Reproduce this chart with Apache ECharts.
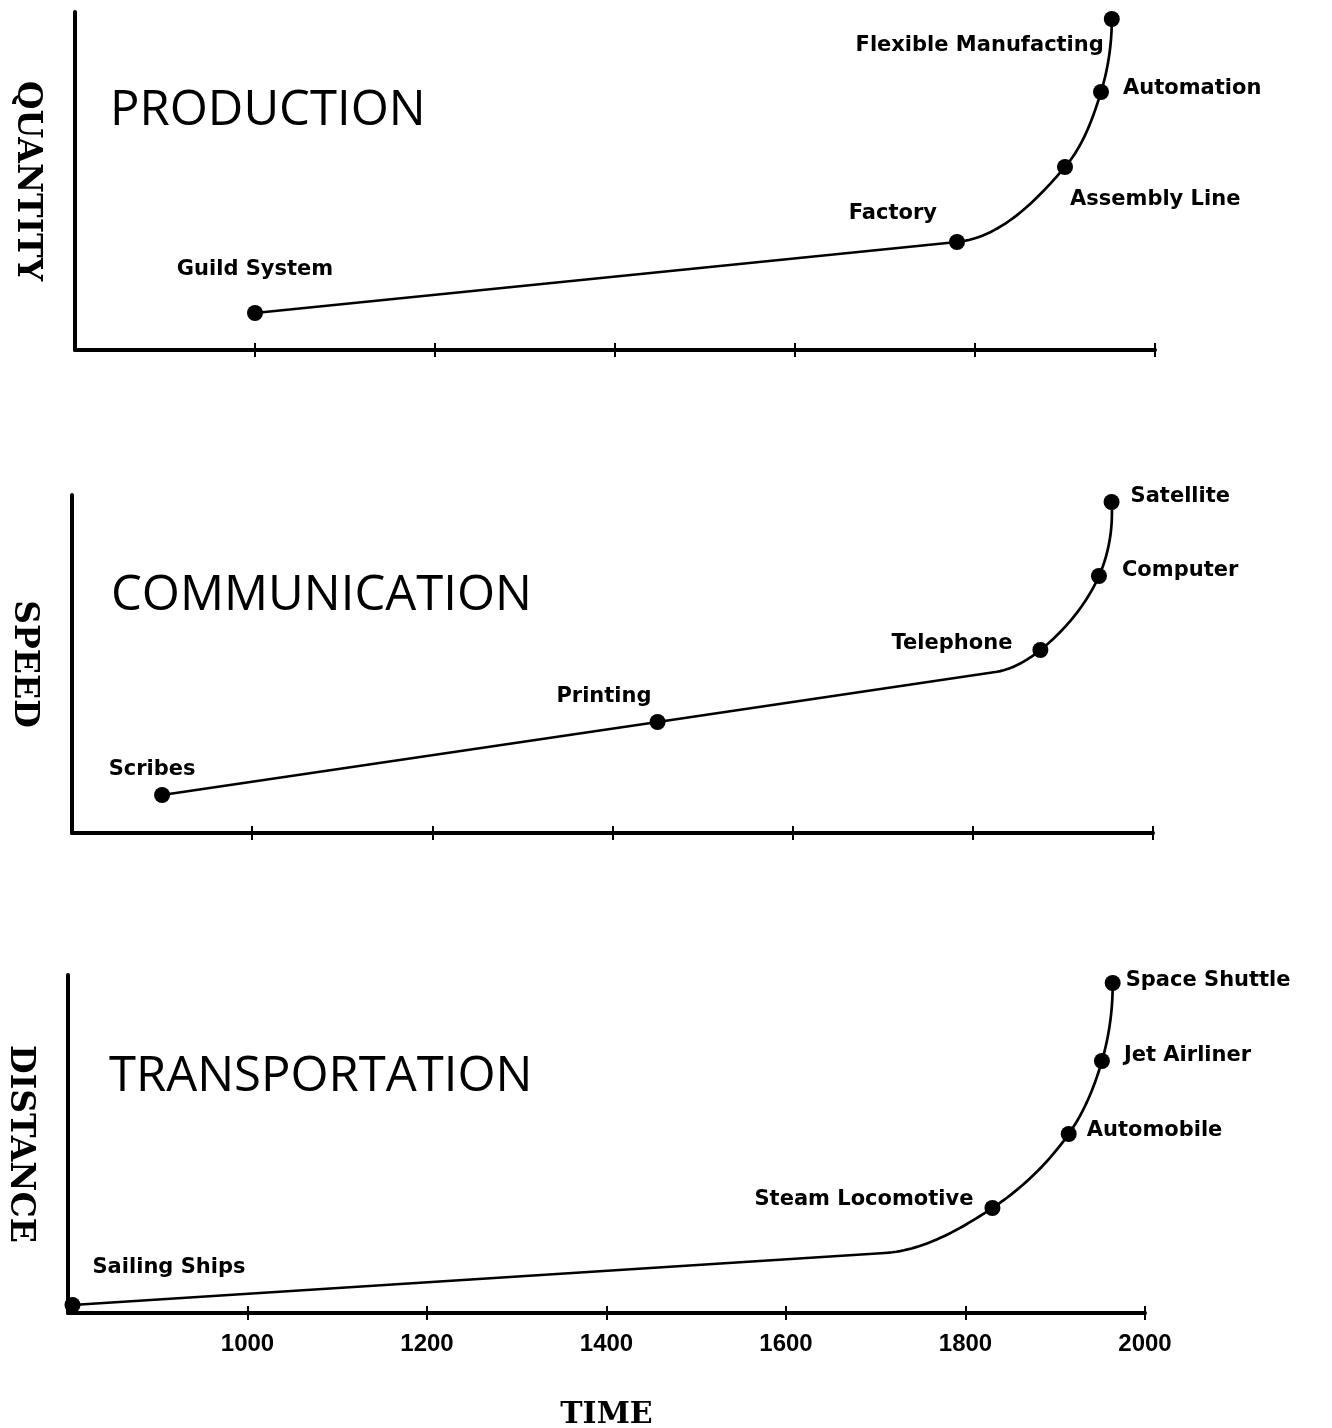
<!DOCTYPE html>
<html>
<head>
<meta charset="utf-8">
<script src="https://cdn.jsdelivr.net/npm/echarts@6/dist/echarts.min.js"></script>
<style>
  html, body { margin: 0; padding: 0; background: #fff; }
  #main { width: 1332px; height: 1428px; }
</style>
</head>
<body>
<div id="main"></div>
<script>
// tick marks along the time axis
const tickYears = [1000, 1200, 1400, 1600, 1800, 2000]
const tickLabels = ['1000', '1200', '1400', '1600', '1800', '2000']

// production
const prodYears = [1000, 1780, 1900, 1940, 1952]
const prodValues = [37, 108, 183, 258, 331]
const prodLabels = ['Guild System', 'Factory', 'Assembly Line', 'Automation', 'Flexible Manufacting']

// communication ('' = bend of the line, no dot)
const commYears = [900, 1450, 1825, 1875, 1940, 1954]
const commValues = [38, 111, 161, 183, 257, 331]
const commLabels = ['Scribes', 'Printing', '', 'Telephone', 'Computer', 'Satellite']

// transportation
const transYears = [805, 1710, 1830, 1915, 1952, 1964]
const transValues = [8, 60, 105, 179, 252, 330]
const transLabels = ['Sailing Ships', '', 'Steam Locomotive', 'Automobile', 'Jet Airliner', 'Space Shuttle']

// label placement next to each dot: [align, dx, dy]
const prodPlace = [['center', 0, -43], ['right', -20, -28], ['left', 5, 33], ['left', 22, -3], ['right', -8, 27]]
const commPlace = [['center', -10, -25], ['right', -6, -25], null, ['right', -28, -6], ['left', 23, -5], ['left', 19, -5]]
const transPlace = [['left', 20, -37], null, ['right', -19, -8], ['left', 18, -3], ['left', 22, -5], ['left', 13, -2]]

const panels = [
    { years: prodYears, values: prodValues, labels: prodLabels, place: prodPlace, curveFrom: 1,
      title: 'PRODUCTION', axisName: 'QUANTITY', grid: { left: 75, top: 12, width: 1080, height: 338 }, titleX: 110, titleY: 111 },
    { years: commYears, values: commValues, labels: commLabels, place: commPlace, curveFrom: 2,
      title: 'COMMUNICATION', axisName: 'SPEED', grid: { left: 72, top: 495, width: 1081, height: 338 }, titleX: 111, titleY: 596 },
    { years: transYears, values: transValues, labels: transLabels, place: transPlace, curveFrom: 1,
      title: 'TRANSPORTATION', axisName: 'DISTANCE', grid: { left: 68, top: 975, width: 1077, height: 338 }, titleX: 109, titleY: 1077 }
]

const black = '#000'

function unit(a, b) {
    const dx = b[0] - a[0], dy = b[1] - a[1]
    const l = Math.hypot(dx, dy) || 1
    return [dx / l, dy / l]
}
function norm(v) {
    const l = Math.hypot(v[0], v[1]) || 1
    return [v[0] / l, v[1] / l]
}

// straight run up to curveFrom, then a smooth bezier through the rest (in pixel space)
function linePoints(px, curveFrom) {
    const out = px.slice(0, curveFrom + 1)
    const n = px.length
    const tan = []
    for (let k = curveFrom; k < n; k++) {
        if (k === curveFrom) tan[k] = k > 0 ? unit(px[k - 1], px[k]) : unit(px[k], px[k + 1])
        else if (k === n - 1) {
            const c = unit(px[k - 1], px[k])
            tan[k] = norm([2 * c[0] - tan[k - 1][0], 2 * c[1] - tan[k - 1][1]])
        } else {
            const a = unit(px[k - 1], px[k]), b = unit(px[k], px[k + 1])
            tan[k] = norm([a[0] + b[0], a[1] + b[1]])
        }
    }
    for (let k = curveFrom; k < n - 1; k++) {
        const p0 = px[k], p3 = px[k + 1]
        const d = Math.hypot(p3[0] - p0[0], p3[1] - p0[1]) / 3
        const p1 = [p0[0] + tan[k][0] * d, p0[1] + tan[k][1] * d]
        const p2 = [p3[0] - tan[k + 1][0] * d, p3[1] - tan[k + 1][1] * d]
        for (let s = 1; s <= 30; s++) {
            const t = s / 30, u = 1 - t
            out.push([
                u * u * u * p0[0] + 3 * u * u * t * p1[0] + 3 * u * t * t * p2[0] + t * t * t * p3[0],
                u * u * u * p0[1] + 3 * u * u * t * p1[1] + 3 * u * t * t * p2[1] + t * t * t * p3[1]
            ])
        }
    }
    return out
}

const grids = [], xAxes = [], yAxes = [], series = [], texts = []

panels.forEach((p, i) => {
    grids.push(Object.assign({ outerBoundsMode: 'none' }, p.grid))
    const last = i === panels.length - 1
    // main axis: line, outward ticks, labels on the bottom panel
    xAxes.push({
        gridIndex: i, type: 'value', min: 800, max: 2000, position: 'bottom',
        axisLine: { lineStyle: { color: black, width: 4 } },
        axisTick: { show: true, customValues: tickYears, length: 7, lineStyle: { color: black, width: 2 } },
        axisLabel: {
            show: last, customValues: tickYears, margin: 19,
            formatter: v => tickLabels[tickYears.indexOf(v)],
            color: black, fontFamily: 'Liberation Sans', fontWeight: 'bold', fontSize: 24
        },
        splitLine: { show: false },
        name: last ? 'TIME' : '', nameLocation: 'middle', nameGap: 87,
        nameTextStyle: { color: black, fontFamily: 'DejaVu Serif', fontWeight: 'bold', fontSize: 30 }
    })
    // overlay axis: only the inward half of the ticks, so they cross the line
    xAxes.push({
        gridIndex: i, type: 'value', min: 800, max: 2000, position: 'bottom',
        axisLine: { show: false },
        axisTick: { show: true, inside: true, customValues: tickYears, length: 7, lineStyle: { color: black, width: 2 } },
        axisLabel: { show: false },
        splitLine: { show: false }
    })
    yAxes.push({
        gridIndex: i, type: 'value', min: 0, max: 338,
        axisLine: { show: true, lineStyle: { color: black, width: 4 } },
        axisTick: { show: false }, axisLabel: { show: false }, splitLine: { show: false },
        name: p.axisName, nameLocation: 'middle', nameRotate: -90, nameGap: 32,
        nameTextStyle: { color: black, fontFamily: 'DejaVu Serif', fontWeight: 'bold', fontSize: 33 }
    })

    const pts = p.years.map((y, k) => [y, p.values[k]])
    // the line, drawn through the axes' coordinate system
    series.push({
        type: 'custom', xAxisIndex: i * 2, yAxisIndex: i, silent: true,
        data: pts, encode: { x: 0, y: 1 },
        renderItem: (params, api) => {
            if (params.dataIndex !== 0) return null
            const px = pts.map(pt => api.coord(pt))
            return {
                type: 'polyline',
                shape: { points: linePoints(px, p.curveFrom) },
                style: { stroke: black, lineWidth: 2.7, fill: null }
            }
        }
    })
    // dots with their labels
    const dots = []
    pts.forEach((pt, k) => {
        if (!p.labels[k]) return
        const pl = p.place[k]
        dots.push({ name: p.labels[k], value: pt, label: { align: pl[0], offset: [pl[1], pl[2]] } })
    })
    series.push({
        type: 'scatter', xAxisIndex: i * 2, yAxisIndex: i, silent: true,
        data: dots, symbolSize: 16, itemStyle: { color: black, opacity: 1 },
        label: {
            show: true, position: 'inside', formatter: '{b}', verticalAlign: 'middle',
            color: black, fontFamily: 'DejaVu Sans', fontWeight: 'bold', fontSize: 21
        }
    })

    texts.push({
        type: 'text', x: p.titleX, y: p.titleY,
        style: { text: p.title, font: '49px "Open Sans"', fill: black, textVerticalAlign: 'middle' }
    })
})

const myChart = echarts.init(document.getElementById('main'))
myChart.setOption({
    backgroundColor: '#fff',
    animation: false,
    grid: grids,
    xAxis: xAxes,
    yAxis: yAxes,
    series: series,
    graphic: texts
})
</script>
</body>
</html>
